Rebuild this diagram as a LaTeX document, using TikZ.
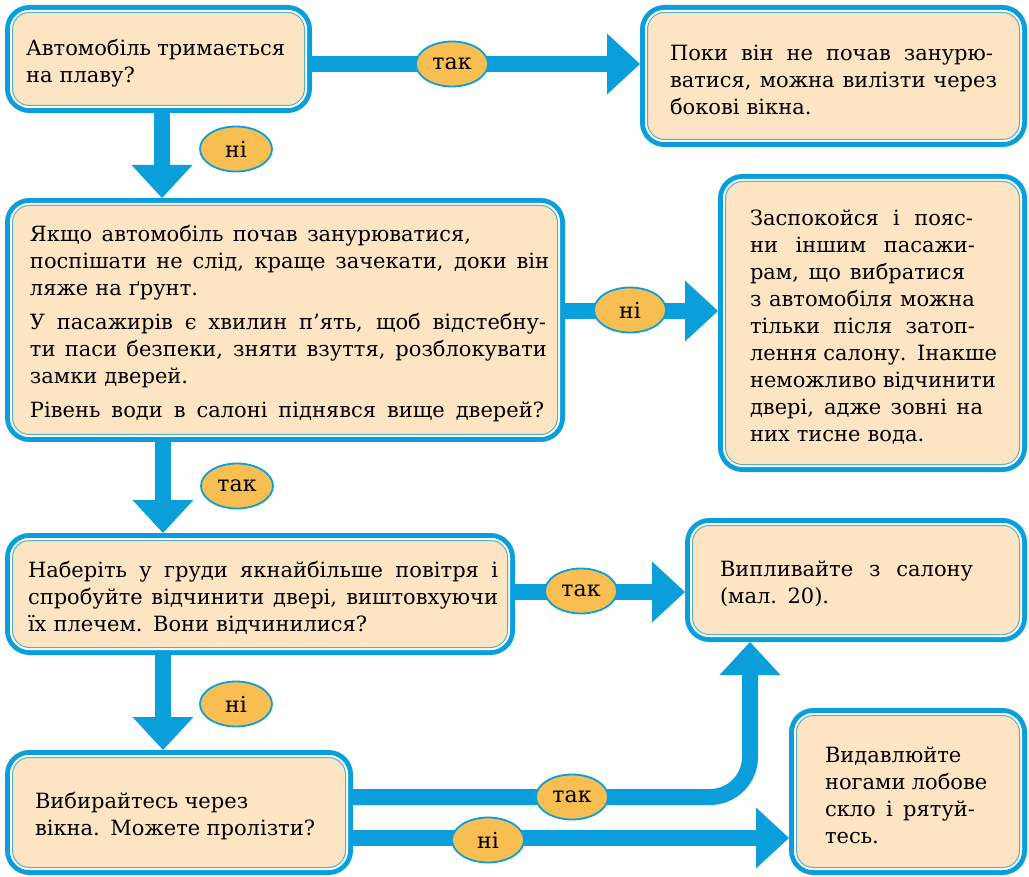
\documentclass[tikz,border=0pt]{standalone}
\usepackage{fontspec}
\setmainfont{DejaVu Serif}
\usetikzlibrary{arrows.meta,shapes.geometric}
\definecolor{abl}{HTML}{0A9FDA}
\definecolor{peach}{HTML}{FDE5C4}
\definecolor{lorange}{HTML}{F8BE52}
\definecolor{innerc}{HTML}{4FB3C8}
\pgfdeclarelayer{bg}
\pgfsetlayers{bg,main}
\newcommand\jl[2]{\leavevmode{\spaceskip=0.3em plus 2em\relax
  \setbox0\hbox{#2}\ifdim\wd0<#1pt \makebox[#1pt][s]{#2}\else\box0\fi}}
\begin{document}
\begin{tikzpicture}[x=1pt,y=-1pt,
  box/.style={rectangle, rounded corners=22pt, draw=abl, line width=5pt, fill=peach,
    anchor=north west, inner xsep=0pt, inner ysep=0pt, align=left,
    font=\fontsize{21}{27}\selectfont, text height=24pt},
  lab/.style={ellipse, draw=abl, line width=1.8pt, fill=lorange, minimum width=72pt,
    minimum height=45pt, inner sep=0pt, font=\fontsize{22}{26}\selectfont},
  arr/.style={draw=abl, line width=16pt,
    -{Triangle[length=33pt,width=61pt,line width=0pt 0]}},
  ]
\useasboundingbox (0,0) rectangle (1029,877);

% boxes
\node[box, minimum width=302pt, minimum height=103pt, text width=265pt] (A) at (5,5)
  {\jl{259}{Автомобіль тримається}\\на плаву?};
\node[box, minimum width=382pt, minimum height=137pt, text width=327pt] (B) at (640,5)
  {\jl{323}{Поки він не почав занурю-}\\\jl{327}{ватися, можна вилізти через}\\бокові вікна.};
\node[box, minimum width=555pt, minimum height=239pt, text width=510pt] (C) at (5,198)
  {\jl{441}{Якщо автомобіль почав занурюватися,}\\
   \jl{519}{поспішати не слід, краще зачекати, доки він}\\
   ляже на ґрунт.\\[7pt]
   \jl{516}{У пасажирів є хвилин п’ять, щоб відстебну-}\\
   \jl{517}{ти паси безпеки, зняти взуття, розблокувати}\\
   замки дверей.\\[7pt]
   \jl{514}{Рівень води в салоні піднявся вище дверей?}};
\node[box, minimum width=304pt, minimum height=293pt, text width=245pt] (D) at (718,174)
  {\jl{223}{Заспокойся і пояс-}\\\jl{225}{ни іншим пасажи-}\\\jl{215}{рам, що вибратися}\\
   \jl{225}{з автомобіля можна}\\\jl{225}{тільки після затоп-}\\\jl{245}{лення салону. Інакше}\\
   \jl{243}{неможливо відчинити}\\\jl{233}{двері, адже зовні на}\\них тисне вода.};
\node[box, minimum width=505pt, minimum height=117pt, text width=464pt] (E) at (5,533)
  {\jl{470}{Наберіть у груди якнайбільше повітря і}\\
   \jl{470}{спробуйте відчинити двері, виштовхуючи}\\
   їх плечем. Вони відчинилися?};
\node[box, minimum width=337pt, minimum height=119pt, text width=272pt] (F) at (685,518)
  {\jl{253}{Випливайте з салону}\\(мал. 20).};
\node[box, minimum width=343pt, minimum height=120pt, text width=288pt] (G) at (5,750)
  {\jl{208}{Вибирайтесь через}\\\jl{280}{вікна. Можете пролізти?}};
\node[box, minimum width=233pt, minimum height=162pt, text width=166pt] (H) at (789,708)
  {Видавлюйте\\\jl{160}{ногами лобове}\\\jl{150}{скло і рятуй-}\\тесь.};

% inner double outline
\foreach \n in {A,B,C,D,E,F,G,H}{
  \draw[white, line width=2pt, rounded corners=18.5pt]
    ([shift={(6pt,-6pt)}]\n.north west) rectangle ([shift={(-6pt,6pt)}]\n.south east);
  \draw[innerc, line width=1pt, rounded corners=17pt]
    ([shift={(7.5pt,-7.5pt)}]\n.north west) rectangle ([shift={(-7.5pt,7.5pt)}]\n.south east);
}

% connectors
\begin{pgfonlayer}{bg}
\draw[arr] (A.center |- 0,64) -- (B.west |- 0,64);
\draw[arr] (A.center -| 162,0) -- (C.north -| 162,0);
\draw[arr] (C.center |- 0,311) -- (D.west |- 0,311);
\draw[arr] (C.center -| 163,0) -- (E.north -| 163,0);
\draw[arr] (E.center |- 0,592) -- (F.west |- 0,592);
\draw[arr] (E.center -| 163,0) -- (G.north -| 163,0);
\draw[arr, rounded corners=40pt] (G.center |- 0,797) -| (F.south -| 750,0);
\draw[arr] (G.center |- 0,838) -- (H.west |- 0,838);
\end{pgfonlayer}

% labels
\node[lab] (l1) at (452,64) {так};
\node[lab] (l2) at (236,149) {ні};
\node[lab] (l3) at (630,310) {ні};
\node[lab] (l4) at (237,486) {так};
\node[lab] (l5) at (581,591) {так};
\node[lab] (l6) at (236,704) {ні};
\node[lab] (l7) at (572,797) {так};
\node[lab] (l8) at (488,840) {ні};
\end{tikzpicture}
\end{document}
